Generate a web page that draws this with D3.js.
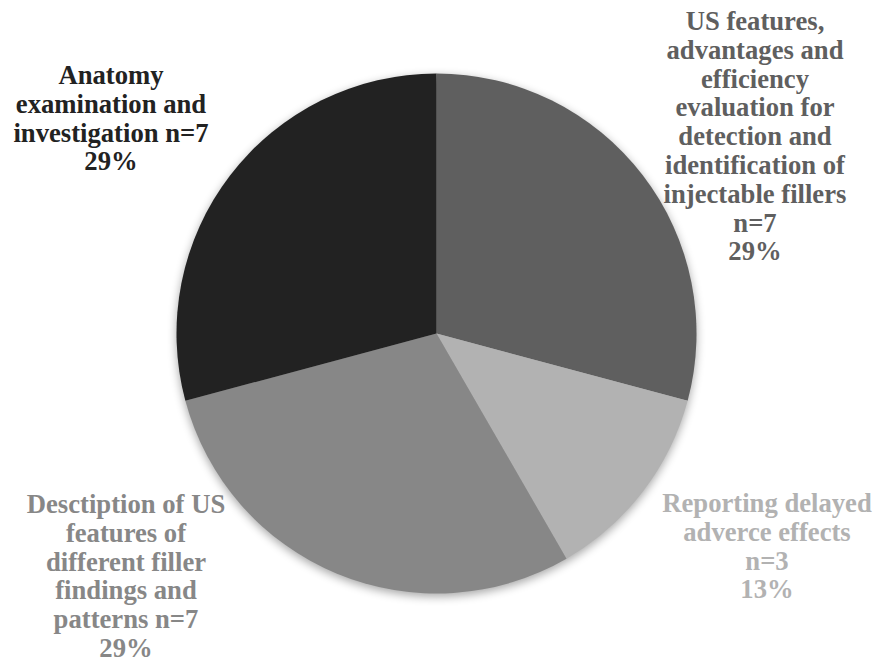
<!DOCTYPE html>
<html>
<head>
<meta charset="utf-8">
<script src="https://cdn.jsdelivr.net/npm/d3@7/dist/d3.min.js"></script>
</head>
<body style="margin:0">
<script>
// Study topics and the number of studies in each
const categories = [
  "US features, advantages and efficiency evaluation for detection and identification of injectable fillers",
  "Reporting delayed adverce effects",
  "Desctiption of US features of different filler findings and patterns",
  "Anatomy examination and investigation"
];
const counts = [7, 3, 7, 7];

// Label wording, split into lines (the count and percentage are appended)
const labelLines = [
  ["US features,", "advantages and", "efficiency", "evaluation for", "detection and", "identification of", "injectable fillers"],
  ["Reporting delayed", "adverce effects"],
  ["Desctiption of US", "features of", "different filler", "findings and", "patterns"],
  ["Anatomy", "examination and", "investigation"]
];
// Whether "n=…" goes on its own line or ends the last text line
const countOwnLine = [true, true, false, false];

const sliceColors = ["#5f5f5f", "#b2b2b2", "#878787", "#222222"];

// Label anchor (centre x, first baseline y) for each slice
const labelPos = [
  { x: 755, y: 30 },
  { x: 767, y: 512 },
  { x: 126, y: 513 },
  { x: 111, y: 84 }
];

const W = 877, H = 660;
const cx = 436.5, cy = 333.5, radius = 260;
const lineH = 28.8;
const labelFont = '"Times New Roman", "Liberation Serif", Tinos, serif';

const svg = d3.select("body").append("svg")
  .attr("width", W).attr("height", H)
  .style("display", "block");

const defs = svg.append("defs");
const blur = defs.append("filter").attr("id", "softEdge")
  .attr("x", "-20%").attr("y", "-20%").attr("width", "140%").attr("height", "140%");
blur.append("feGaussianBlur").attr("stdDeviation", 5);

const total = d3.sum(counts);
const data = categories.map((c, i) => ({ name: c, value: counts[i], i }));

const pie = d3.pie().sort(null).value(d => d.value);
const arc = d3.arc().innerRadius(0).outerRadius(radius);

const g = svg.append("g")
  .attr("transform", `translate(${cx},${cy})`);

// soft shadow under the pie
g.append("path")
  .attr("d", d3.arc().innerRadius(0).outerRadius(radius)({ startAngle: 0, endAngle: 2 * Math.PI }))
  .attr("transform", "translate(0,3)")
  .attr("fill", "#000")
  .attr("opacity", 0.35)
  .attr("filter", "url(#softEdge)");

g.selectAll("path.slice")
  .data(pie(data))
  .join("path")
  .attr("class", "slice")
  .attr("d", arc)
  .attr("fill", d => sliceColors[d.data.i]);

// Slice labels, one text element per line
const fmtPct = v => Math.round(v / total * 100) + "%";

const labelRows = [];
data.forEach((d, i) => {
  const lines = labelLines[i].slice();
  const nText = "n=" + d.value;
  if (countOwnLine[i]) lines.push(nText);
  else lines[lines.length - 1] += " " + nText;
  lines.push(fmtPct(d.value));
  lines.forEach((ln, k) => labelRows.push({ text: ln, i, k }));
});

svg.selectAll("text.lbl")
  .data(labelRows)
  .join("text")
  .attr("class", "lbl")
  .attr("x", r => labelPos[r.i].x)
  .attr("y", r => labelPos[r.i].y + r.k * lineH)
  .attr("text-anchor", "middle")
  .attr("font-family", labelFont)
  .style("font-family", labelFont, "important")
  .style("font-weight", "bold")
  .style("font-size", "26.67px")
  .style("fill", r => sliceColors[r.i])
  .text(r => r.text);
</script>
</body>
</html>
